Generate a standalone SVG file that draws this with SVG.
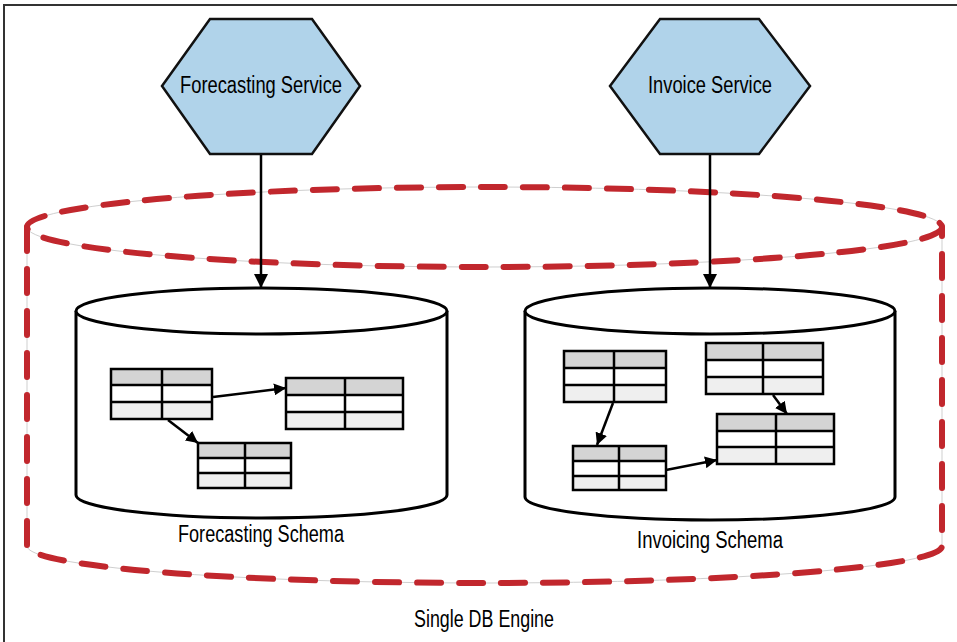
<svg xmlns="http://www.w3.org/2000/svg" width="957" height="642" viewBox="0 0 957 642">
<defs>
<marker id="ahs" viewBox="0 0 10 10" refX="10" refY="5" markerWidth="12" markerHeight="12" markerUnits="userSpaceOnUse" orient="auto">
<path d="M0,0 L10,5 L0,10 z" fill="#000"/>
</marker>
<marker id="ahv" viewBox="0 0 10 10" refX="10" refY="5" markerWidth="14" markerHeight="14" markerUnits="userSpaceOnUse" orient="auto">
<path d="M0,0 L10,5 L0,10 z" fill="#000"/>
</marker>
</defs>
<style>
.lbl{font-family:"Liberation Sans",Arial,sans-serif;font-size:23px;fill:#000;text-anchor:middle}
.hex{fill:#b0d3ea;stroke:#111;stroke-width:2.5}
.cyl{fill:#fff;stroke:#000;stroke-width:3}
.hdr{fill:#d4d4d4}
.r1{fill:#fff}
.r2{fill:#efefef}
.grid{fill:none;stroke:#000;stroke-width:2.5}
.guide{fill:none;stroke:#cfcfcf;stroke-width:1}
.dash{fill:none;stroke:#c1272d;stroke-width:6;stroke-linecap:round;stroke-dasharray:24 18}
.conn{stroke:#000;stroke-width:2.5;fill:none}
</style>
<rect width="957" height="642" fill="#fff"/>
<path d="M4,642 V5 H957" fill="none" stroke="#333" stroke-width="2"/>

<g id="db-engine">
<ellipse class="guide" cx="484.5" cy="227" rx="457.5" ry="40"/>
<path class="guide" d="M27,227 V546 A457.5,37 0 0 0 942,546 V227"/>
<ellipse class="dash" cx="484.5" cy="227" rx="457.5" ry="40"/>
<path class="dash" d="M27,227 V546 A457.5,37 0 0 0 942,546 V227"/>
<text class="lbl" x="484" y="627" textLength="140" lengthAdjust="spacingAndGlyphs">Single DB Engine</text>
</g>

<g id="forecasting-service">
<polygon class="hex" points="162,86 210,19 312,19 360,86 312,154 210,154"/>
<text class="lbl" x="261" y="93" textLength="162" lengthAdjust="spacingAndGlyphs">Forecasting Service</text>
</g>

<g id="invoice-service">
<polygon class="hex" points="610,86 660,19 759,19 810,86 759,154 660,154"/>
<text class="lbl" x="710" y="93" textLength="124" lengthAdjust="spacingAndGlyphs">Invoice Service</text>
</g>

<g id="forecasting-schema">
<path class="cyl" d="M76,311 V495 A185.5,23 0 0 0 447,495 V311"/>
<ellipse class="cyl" cx="261.5" cy="311" rx="185.5" ry="23"/>
<text class="lbl" x="261" y="542" textLength="166" lengthAdjust="spacingAndGlyphs">Forecasting Schema</text>
<g id="table-a">
<rect class="hdr" x="111" y="369" width="101" height="16"/><rect class="r1" x="111" y="385" width="101" height="17"/><rect class="r2" x="111" y="402" width="101" height="17"/>
<path class="grid" d="M111,369 H212 V419 H111 Z M111,385 H212 M111,402 H212 M162,369 V419"/>
</g>
<g id="table-b">
<rect class="hdr" x="286" y="378" width="117" height="17"/><rect class="r1" x="286" y="395" width="117" height="17"/><rect class="r2" x="286" y="412" width="117" height="17"/>
<path class="grid" d="M286,378 H403 V429 H286 Z M286,395 H403 M286,412 H403 M345,378 V429"/>
</g>
<g id="table-c">
<rect class="hdr" x="198" y="443" width="93" height="15"/><rect class="r1" x="198" y="458" width="93" height="15"/><rect class="r2" x="198" y="473" width="93" height="15"/>
<path class="grid" d="M198,443 H291 V488 H198 Z M198,458 H291 M198,473 H291 M245,443 V488"/>
</g>
</g>

<g id="invoicing-schema">
<path class="cyl" d="M525,311 V497 A185,23 0 0 0 895,497 V311"/>
<ellipse class="cyl" cx="710" cy="311" rx="185" ry="23"/>
<text class="lbl" x="710" y="548" textLength="146" lengthAdjust="spacingAndGlyphs">Invoicing Schema</text>
<g id="table-d">
<rect class="hdr" x="564" y="351" width="102" height="17"/><rect class="r1" x="564" y="368" width="102" height="17"/><rect class="r2" x="564" y="385" width="102" height="17"/>
<path class="grid" d="M564,351 H666 V402 H564 Z M564,368 H666 M564,385 H666 M614,351 V402"/>
</g>
<g id="table-e">
<rect class="hdr" x="706" y="343" width="117" height="17"/><rect class="r1" x="706" y="360" width="117" height="17"/><rect class="r2" x="706" y="377" width="117" height="17"/>
<path class="grid" d="M706,343 H823 V394 H706 Z M706,360 H823 M706,377 H823 M763,343 V394"/>
</g>
<g id="table-f">
<rect class="hdr" x="717" y="414" width="117" height="17"/><rect class="r1" x="717" y="431" width="117" height="16"/><rect class="r2" x="717" y="447" width="117" height="17"/>
<path class="grid" d="M717,414 H834 V464 H717 Z M717,431 H834 M717,447 H834 M776,414 V464"/>
</g>
<g id="table-g">
<rect class="hdr" x="573" y="446" width="93" height="15"/><rect class="r1" x="573" y="461" width="93" height="15"/><rect class="r2" x="573" y="476" width="93" height="14"/>
<path class="grid" d="M573,446 H666 V490 H573 Z M573,461 H666 M573,476 H666 M619,446 V490"/>
</g>
</g>

<g id="connectors">
<line class="conn" x1="261" y1="155" x2="261" y2="288" marker-end="url(#ahv)"/>
<line class="conn" x1="710" y1="155" x2="710" y2="288" marker-end="url(#ahv)"/>
<line class="conn" x1="213" y1="397" x2="286" y2="388" marker-end="url(#ahs)"/>
<line class="conn" x1="168" y1="420" x2="198" y2="443" marker-end="url(#ahs)"/>
<line class="conn" x1="613" y1="403" x2="597" y2="445" marker-end="url(#ahs)"/>
<line class="conn" x1="773" y1="395" x2="787" y2="414" marker-end="url(#ahs)"/>
<line class="conn" x1="666" y1="470" x2="717" y2="460" marker-end="url(#ahs)"/>
</g>
</svg>
